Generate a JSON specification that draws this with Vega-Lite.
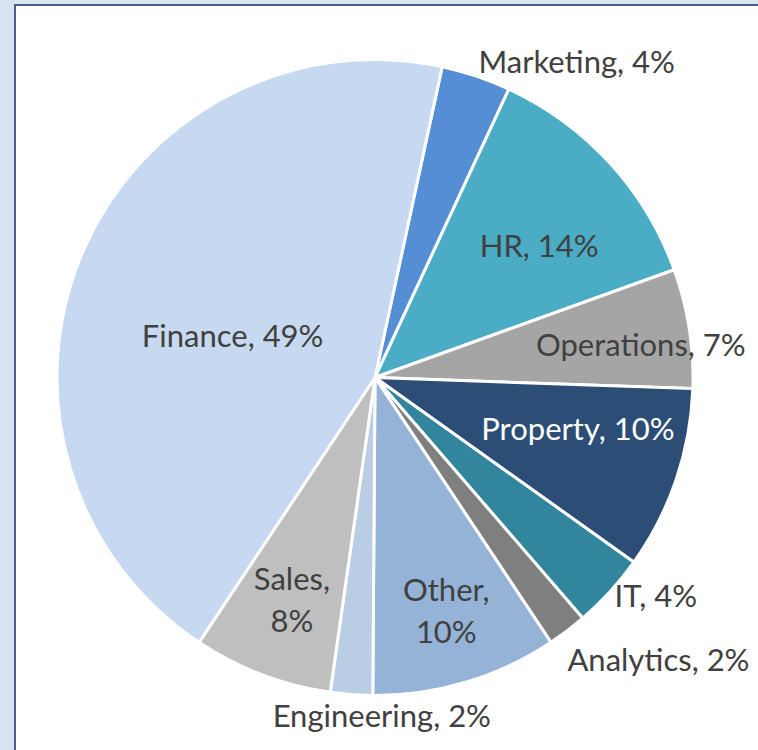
{
  "$schema": "https://vega.github.io/schema/vega-lite/v6.json",
  "autosize": {"type": "none"},
  "padding": {"left": 15, "top": 5, "right": 0, "bottom": 0},
  "width": 746,
  "height": 745,
  "background": "#d9e4f2",
  "view": {"fill": "white", "stroke": "#4a5e86", "strokeWidth": 2, "strokeDash": [746, 1491, 745]},
  "config": {
    "text": {"font": "Lato", "fontSize": 31, "fill": "#404040", "align": "center", "baseline": "middle", "lineHeight": 42}
  },
  "data": {
    "values": [
      {"idx": 1, "dept": "Marketing", "label": "Marketing, 4%", "value": 12.7},
      {"idx": 2, "dept": "HR", "label": "HR, 14%", "value": 45.3},
      {"idx": 3, "dept": "Operations", "label": "Operations, 7%", "value": 21.8},
      {"idx": 4, "dept": "Property", "label": "Property, 10%", "value": 33.5},
      {"idx": 5, "dept": "IT", "label": "IT, 4%", "value": 13.7},
      {"idx": 6, "dept": "Analytics", "label": "Analytics, 2%", "value": 7.2},
      {"idx": 7, "dept": "Other", "label": ["Other,", "10%"], "value": 34.0},
      {"idx": 8, "dept": "Engineering", "label": "Engineering, 2%", "value": 7.7},
      {"idx": 9, "dept": "Sales", "label": ["Sales,", "8%"], "value": 25.5},
      {"idx": 10, "dept": "Finance", "label": "Finance, 49%", "value": 158.6}
    ]
  },
  "encoding": {
    "theta": {"field": "value", "type": "quantitative", "stack": true, "scale": {"range": [0.2129, 6.4961]}},
    "order": {"field": "idx", "type": "quantitative"}
  },
  "layer": [
    {
      "mark": {"type": "arc", "x": {"expr": "width/2 - 13"}, "outerRadius": 318, "stroke": "white", "strokeWidth": 3},
      "encoding": {
        "color": {
          "field": "dept", "type": "nominal", "legend": null,
          "scale": {
            "domain": ["Marketing", "HR", "Operations", "Property", "IT", "Analytics", "Other", "Engineering", "Sales", "Finance"],
            "range": ["#558ED5", "#4BACC6", "#A5A5A5", "#2C4D75", "#31859C", "#7F7F7F", "#95B3D7", "#B9CDE5", "#BFBFBF", "#C6D9F1"]
          }
        }
      }
    },
    {"mark": {"type": "text", "x": {"expr": "width/2 - 13"}, "radius": 373, "dx": 83, "dy": 40}, "encoding": {"text": {"condition": {"test": "datum.dept === 'Marketing'", "field": "label"}, "value": ""}}},
    {"mark": {"type": "text", "x": {"expr": "width/2 - 13"}, "radius": 209, "dx": 10, "dy": 12}, "encoding": {"text": {"condition": {"test": "datum.dept === 'HR'", "field": "label"}, "value": ""}}},
    {"mark": {"type": "text", "x": {"expr": "width/2 - 13"}, "radius": 267, "dx": 2, "dy": 11}, "encoding": {"text": {"condition": {"test": "datum.dept === 'Operations'", "field": "label"}, "value": ""}}},
    {"mark": {"type": "text", "x": {"expr": "width/2 - 13"}, "radius": 210, "dx": 4, "dy": -14, "fill": "white"}, "encoding": {"text": {"condition": {"test": "datum.dept === 'Property'", "field": "label"}, "value": ""}}},
    {"mark": {"type": "text", "x": {"expr": "width/2 - 13"}, "radius": 357, "dx": 17, "dy": -20}, "encoding": {"text": {"condition": {"test": "datum.dept === 'IT'", "field": "label"}, "value": ""}}},
    {"mark": {"type": "text", "x": {"expr": "width/2 - 13"}, "radius": 401, "dx": 41, "dy": -35}, "encoding": {"text": {"condition": {"test": "datum.dept === 'Analytics'", "field": "label"}, "value": ""}}},
    {"mark": {"type": "text", "x": {"expr": "width/2 - 13"}, "radius": 246, "dx": 1, "dy": -21}, "encoding": {"text": {"condition": {"test": "datum.dept === 'Other'", "field": "label"}, "value": ""}}},
    {"mark": {"type": "text", "x": {"expr": "width/2 - 13"}, "radius": 340, "dx": 32, "dy": 1}, "encoding": {"text": {"condition": {"test": "datum.dept === 'Engineering'", "field": "label"}, "value": ""}}},
    {"mark": {"type": "text", "x": {"expr": "width/2 - 13"}, "radius": 239, "dx": 2, "dy": -20}, "encoding": {"text": {"condition": {"test": "datum.dept === 'Sales'", "field": "label"}, "value": ""}}},
    {"mark": {"type": "text", "x": {"expr": "width/2 - 13"}, "radius": 148, "dx": -6, "dy": 18}, "encoding": {"text": {"condition": {"test": "datum.dept === 'Finance'", "field": "label"}, "value": ""}}}
  ]
}
